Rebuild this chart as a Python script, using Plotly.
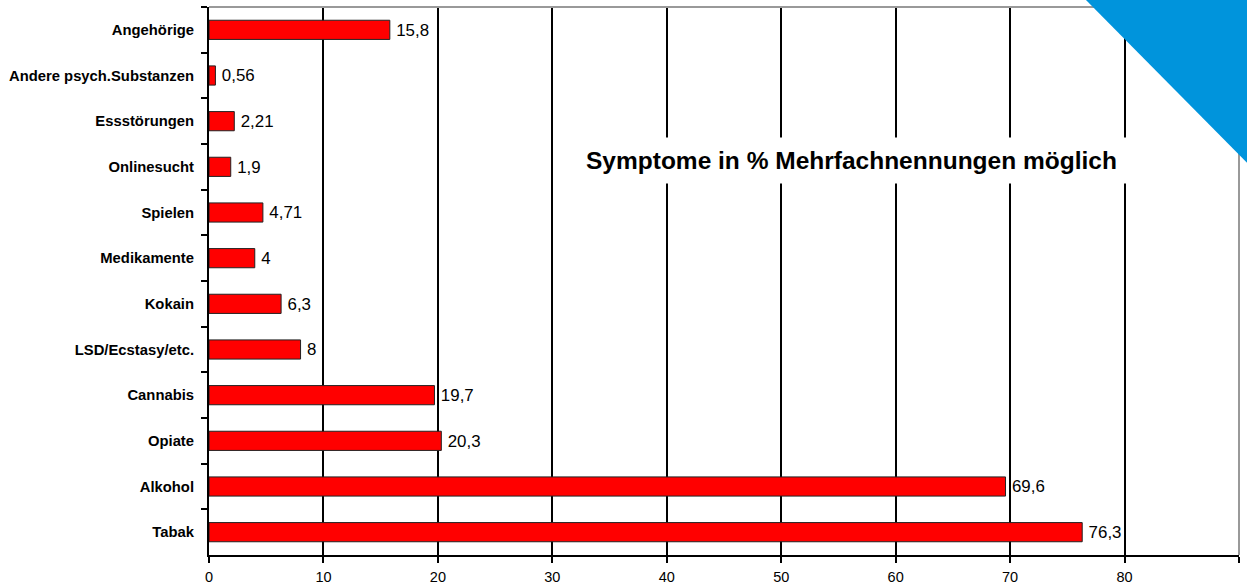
import plotly.graph_objects as go

categories = ['Angehörige', 'Andere psych.Substanzen', 'Essstörungen', 'Onlinesucht', 'Spielen',
              'Medikamente', 'Kokain', 'LSD/Ecstasy/etc.', 'Cannabis', 'Opiate', 'Alkohol', 'Tabak']
values = [15.8, 0.56, 2.21, 1.9, 4.71, 4, 6.3, 8, 19.7, 20.3, 69.6, 76.3]
value_labels = ['15,8', '0,56', '2,21', '1,9', '4,71', '4', '6,3', '8', '19,7', '20,3', '69,6', '76,3']
x_ticks = [0, 10, 20, 30, 40, 50, 60, 70, 80, 90]

FONT = "Arial, Liberation Sans, sans-serif"

fig = go.Figure()
fig.add_trace(go.Bar(
    y=categories, x=values, orientation='h',
    marker=dict(color='#ff0000', line=dict(color='#222222', width=1)),
    text=value_labels, texttemplate='\u2009%{text}', textposition='outside', cliponaxis=False,
    textfont=dict(family=FONT, size=18.5, color='black'),
))

fig.update_layout(
    width=1247, height=585,
    margin=dict(l=209, r=8, t=7, b=30, autoexpand=False),
    plot_bgcolor='white', paper_bgcolor='white',
    font=dict(family=FONT, color='black'),
    showlegend=False, bargap=0.58,
    xaxis=dict(range=[0, 90], tickvals=x_ticks, showgrid=True, gridcolor='black', gridwidth=2,
               showline=True, linecolor='black', linewidth=2, ticks='outside', ticklen=6,
               tickwidth=2, tickcolor='black', tickfont=dict(size=14.5), zeroline=False,
               ticklabelstandoff=2, automargin=False),
    yaxis=dict(autorange='reversed', tickson='boundaries', ticks='outside', ticklen=6,
               tickwidth=2, tickcolor='black', showline=True, linecolor='black', linewidth=2,
               showgrid=False, tickfont=dict(size=14.8, family=FONT, weight='bold'),
               ticklabelstandoff=10, automargin=False),
    shapes=[
        # grey frame on top and right
        dict(type='line', xref='paper', yref='paper', x0=0, x1=1, y0=1, y1=1,
             line=dict(color='#999999', width=2)),
        dict(type='line', xref='paper', yref='paper', x0=1, x1=1, y0=0, y1=1,
             line=dict(color='#999999', width=2)),
        # blue corner decoration
        dict(type='path', xref='paper', yref='paper',
             path='M 0.8476 1.02 L 1.01 1.02 L 1.01 0.7117 Z',
             fillcolor='#0094dc', line=dict(width=0), layer='above'),
    ],
    annotations=[dict(
        text='<b>Symptome in % Mehrfachnennungen möglich</b>',
        x=0.624, y=0.719, xref='paper', yref='paper', showarrow=False,
        xanchor='center', yanchor='middle',
        font=dict(family=FONT, size=24.5, color='black'),
        bgcolor='white', borderpad=9,
    )],
)

# page has an 8px body margin by default; drop it so the figure sits at the corner
fig.write_html("out.html", config={'displayModeBar': False},
               post_script="document.body.style.margin='0';")
